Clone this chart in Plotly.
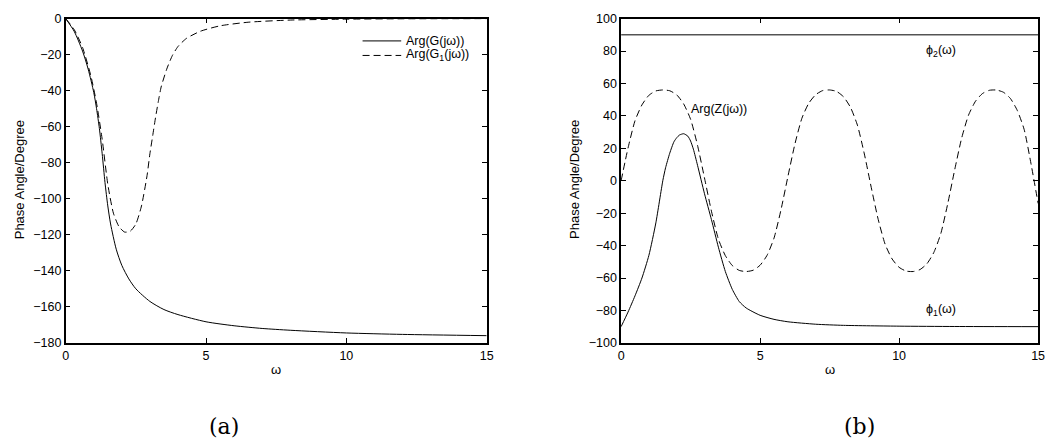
import plotly.graph_objects as go

# ---- (a) data ----
w_g = [0, 0.3, 0.6, 0.8, 1.0, 1.1, 1.2, 1.3, 1.4, 1.5, 1.6, 1.8, 2.0, 2.25, 2.5, 3.0, 3.5, 4.0, 5.0, 6.0, 7.0, 8.0, 10.0, 12.0, 15.0]
arg_g = [0, -7, -18, -28, -41, -50, -61, -75, -91, -104, -114, -128, -137, -144.5, -150, -157, -161.5, -164.3, -168.3, -170.5, -172, -173, -174.5, -175.3, -176]

w_g1 = [0, 0.3, 0.6, 0.9, 1.1, 1.3, 1.5, 1.7, 1.9, 2.1, 2.3, 2.5, 2.7, 2.9, 3.0, 3.1, 3.2, 3.3, 3.4, 3.6, 3.8, 4.0, 4.3, 4.8, 5.5, 6.5, 8.0, 10.0, 12.0, 15.0]
arg_g1 = [0, -6, -16, -32, -47, -67, -92, -108, -115.5, -118.5, -118, -114, -104, -87, -75, -65, -55, -46, -38, -28, -20.5, -15.5, -11, -7, -4, -2, -0.8, -0.3, -0.1, 0]

legend_names = ["Arg(G(jω))", "Arg(G<sub>1</sub>(jω))"]

# ---- (b) data ----
w_z = [0, 0.25, 0.5, 0.75, 1.0, 1.25, 1.5, 1.75, 2.0, 2.25, 2.5, 2.75, 3.0, 3.25, 3.5, 3.75, 4.0, 4.25, 4.5, 4.75,
       5.0, 5.25, 5.5, 5.75, 6.0, 6.25, 6.5, 6.75, 7.0, 7.25, 7.5, 7.75, 8.0, 8.25, 8.5, 8.75, 9.0, 9.25, 9.5, 9.75,
       10.0, 10.25, 10.5, 10.75, 11.0, 11.25, 11.5, 11.75, 12.0, 12.25, 12.5, 12.75, 13.0, 13.25, 13.5, 13.75, 14.0, 14.25, 14.5, 14.75, 15.0]
arg_z = [0, 20.2, 37, 46.8, 52.7, 55.4, 56, 55.5, 53, 47.4, 37.9, 21.8, 1.7, -18.8, -36, -46.2, -52.3, -55.3, -56, -55.2,
         -52.1, -46, -35.4, -18, 2.6, 22.5, 38.4, 47.8, 53.1, 55.6, 56, 55.1, 51.8, 45.3, 34.3, 16.5, -4.3, -24, -39.3, -48.3,
         -53.4, -55.7, -56, -54.8, -51.2, -44.2, -32.6, -14.1, 6.8, 26.3, 40.6, 49.1, 53.8, 55.8, 55.95, 54.6, 50.8, 43.4, 31.5, 10, -14]

w_phi1 = [0, 0.25, 0.5, 0.75, 1.0, 1.25, 1.5, 1.6, 1.75, 1.9, 2.0, 2.1, 2.25, 2.4, 2.5, 2.6, 2.75, 3.0, 3.25, 3.5, 3.75,
          4.0, 4.25, 4.5, 5.0, 5.5, 6.0, 7.0, 8.0, 10.0, 12.0, 15.0]
phi1 = [-90, -81, -71, -60, -46, -26, 0, 8, 17, 24, 26.5, 28.2, 29, 27.5, 24.5, 19.5, 9.5, -8, -24, -41, -56,
        -67, -74.5, -78.5, -83, -85.5, -87, -88.5, -89.2, -89.7, -89.9, -90]

w_phi2 = [0, 15]
phi2 = [90, 90]

x_ticks = [0, 5, 10, 15]

FONT = "Liberation Sans, Arial, sans-serif"
SERIF = "DejaVu Serif, Liberation Serif, serif"
DASH = "7px,4px"

W, H = 1057, 448


def px(xp):
    return xp / W


def py(yp):
    return 1 - yp / H


fig = go.Figure()
fig.add_trace(go.Scatter(x=w_g, y=arg_g, mode="lines", line=dict(color="black", width=1, shape="spline", smoothing=0.7),
                         name=legend_names[0], xaxis="x", yaxis="y"))
fig.add_trace(go.Scatter(x=w_g1, y=arg_g1, mode="lines", line=dict(color="black", width=1, dash=DASH, shape="spline", smoothing=0.6),
                         name=legend_names[1], xaxis="x", yaxis="y"))
fig.add_trace(go.Scatter(x=w_phi2, y=phi2, mode="lines", line=dict(color="black", width=1), xaxis="x2", yaxis="y2"))
fig.add_trace(go.Scatter(x=w_z, y=arg_z, mode="lines", line=dict(color="black", width=1, dash=DASH, shape="spline", smoothing=0.6),
                         xaxis="x2", yaxis="y2"))
fig.add_trace(go.Scatter(x=w_phi1, y=phi1, mode="lines", line=dict(color="black", width=1, shape="spline", smoothing=0.6),
                         xaxis="x2", yaxis="y2"))

axis_common = dict(showline=True, linecolor="black", linewidth=1.5, mirror="ticks", ticks="inside", ticklen=5,
                   tickwidth=1, tickcolor="black", showgrid=False, zeroline=False, ticklabeloverflow="allow",
                   tickfont=dict(family=FONT, size=12.5, color="black"))

ydom = [py(346.7), py(12)]
fig.update_layout(
    width=W, height=H,
    margin=dict(l=0, r=0, t=0, b=0),
    paper_bgcolor="white", plot_bgcolor="white",
    xaxis=dict(domain=[px(63.3), px(488.3)], range=[0, 15], tickvals=x_ticks, anchor="y", **axis_common),
    yaxis=dict(domain=ydom, range=[-180, 0], dtick=20, anchor="x", **axis_common),
    xaxis2=dict(domain=[px(624), px(1045)], range=[0, 15], tickvals=x_ticks, anchor="y2", **axis_common),
    yaxis2=dict(domain=ydom, range=[-100, 100], dtick=20, anchor="x2", **axis_common),
    showlegend=False,
)

# manual legend (compact, MATLAB style)
leg_rows = [35.0, 50.0]
shapes = [
    dict(type="line", xref="paper", yref="paper", x0=px(363), x1=px(402), y0=py(leg_rows[0]), y1=py(leg_rows[0]),
         line=dict(color="black", width=1)),
    dict(type="line", xref="paper", yref="paper", x0=px(363), x1=px(402), y0=py(leg_rows[1]), y1=py(leg_rows[1]),
         line=dict(color="black", width=1, dash=DASH)),
]

ann_font = dict(family=FONT, size=13, color="black")
leg_font = dict(family=FONT, size=12.5, color="black")
lab_font = dict(family=FONT, size=12.5, color="black")
C = dict(xanchor="center", yanchor="middle", showarrow=False)
annotations = [
    dict(text=legend_names[0], x=px(406), y=py(leg_rows[0]), xref="paper", yref="paper", xanchor="left",
         yanchor="middle", showarrow=False, font=leg_font, borderpad=0),
    dict(text=legend_names[1], x=px(406), y=py(leg_rows[1]), xref="paper", yref="paper", xanchor="left",
         yanchor="middle", showarrow=False, font=leg_font, borderpad=0),
    dict(text="Phase Angle/Degree", x=px(17), y=py(178), xref="paper", yref="paper", textangle=-90, font=ann_font, **C),
    dict(text="Phase Angle/Degree", x=px(577), y=py(178), xref="paper", yref="paper", textangle=-90, font=ann_font, **C),
    dict(text="ω", x=7.5, y=py(374), xref="x", yref="paper", font=ann_font, **C),
    dict(text="ω", x=7.5, y=py(374), xref="x2", yref="paper", font=ann_font, **C),
    dict(text="ϕ<sub>2</sub>(ω)", x=11.5, y=80, xref="x2", yref="y2", font=lab_font, **C),
    dict(text="ϕ<sub>1</sub>(ω)", x=11.5, y=-80, xref="x2", yref="y2", font=lab_font, **C),
    dict(text="Arg(Z(jω))", x=2.45, y=44, xref="x2", yref="y2", xanchor="left", yanchor="middle", showarrow=False, font=lab_font),
    dict(text="(a)", x=px(223), y=py(433), xref="paper", yref="paper", font=dict(family=SERIF, size=22, color="black"), **C),
    dict(text="(b)", x=px(865), y=py(433), xref="paper", yref="paper", font=dict(family=SERIF, size=22, color="black"), **C),
]
fig.update_layout(annotations=annotations, shapes=shapes)

fig.write_html("out.html", config={"displayModeBar": False},
               post_script="document.body.style.margin='0px';document.body.style.overflow='hidden';")
